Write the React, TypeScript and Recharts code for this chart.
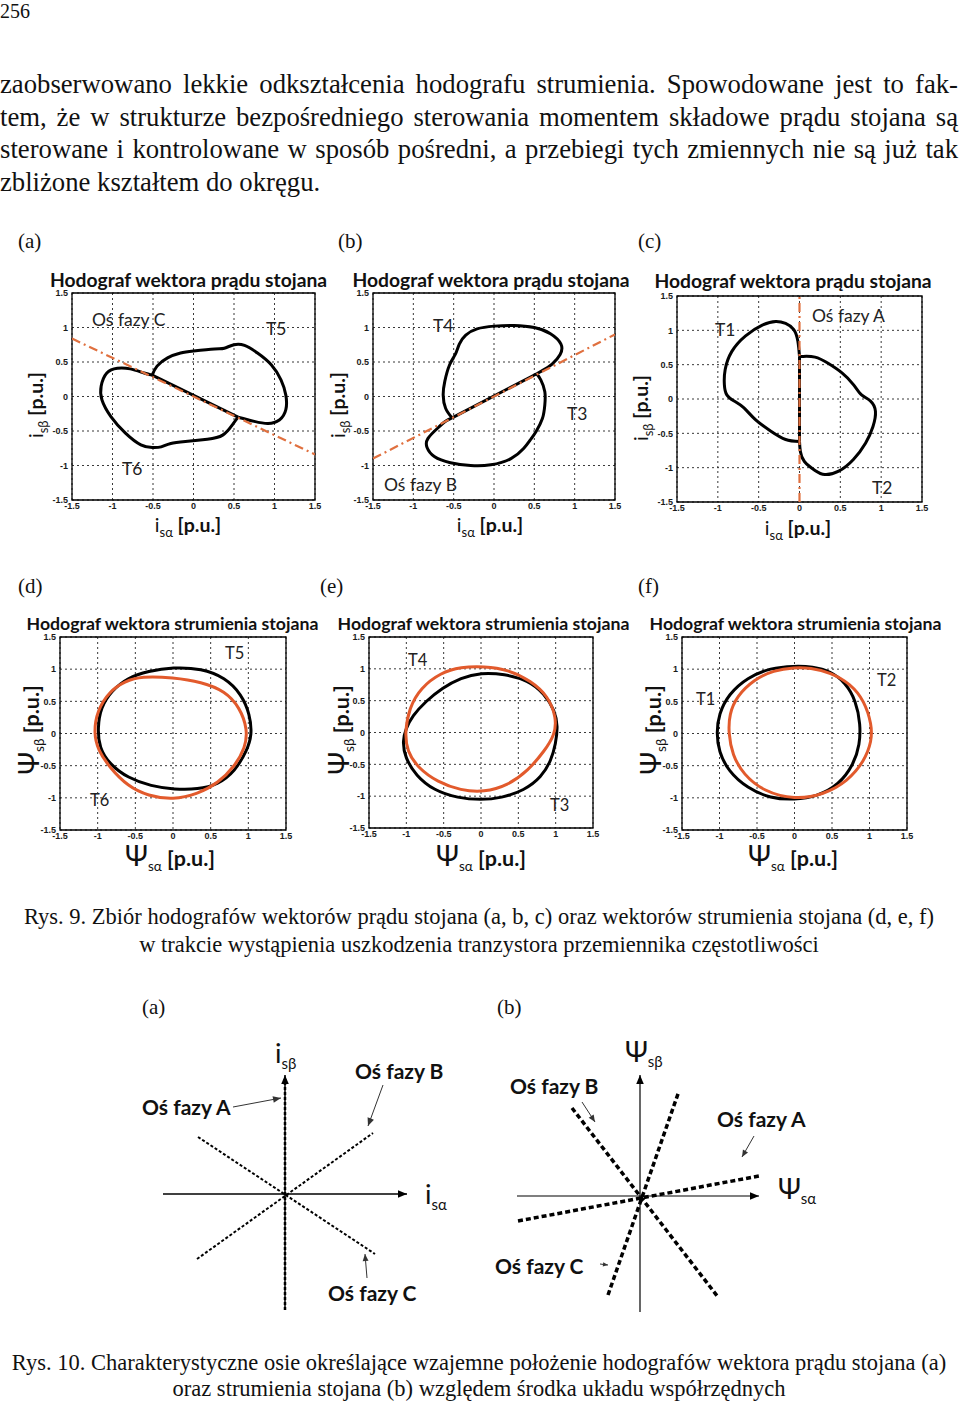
import React from 'react';
import { LineChart, Line, XAxis, YAxis, CartesianGrid, ReferenceArea } from 'recharts';

// ---------- data ----------
type Pt = { x: number; y: number };
const toPts = (a: number[][]): Pt[] => a.map(([x, y]) => ({ x, y }));

const AX_TICKS = [-1.5, -1, -0.5, 0, 0.5, 1, 1.5];

// (a) stator current, fault T5/T6
const aLobeUpper = [[-0.51,0.31],[-0.45,0.44],[-0.32,0.56],[-0.16,0.63],[0,0.66],[0.26,0.69],[0.38,0.70],[0.50,0.75],[0.63,0.74],[0.79,0.63],[0.96,0.46],[1.08,0.24],[1.14,0.02],[1.14,-0.19],[1.06,-0.34],[0.92,-0.39],[0.75,-0.36],[0.55,-0.30]];
const aLobeLower = [[0.55,-0.30],[0.48,-0.41],[0.36,-0.56],[0.17,-0.62],[-0.07,-0.65],[-0.28,-0.68],[-0.40,-0.73],[-0.51,-0.74],[-0.65,-0.70],[-0.84,-0.53],[-1.02,-0.29],[-1.13,-0.05],[-1.14,0.15],[-1.07,0.34],[-0.94,0.41],[-0.78,0.40],[-0.61,0.34],[-0.51,0.31]];
const aFaultPath = [[-0.51,0.31],[0.55,-0.30]];
const aPhaseAxisC = [[-1.5,0.84],[1.5,-0.84]];

// (b) stator current, fault T3/T4
const bLobeUpper = [[-0.52,-0.31],[-0.60,-0.17],[-0.63,0.02],[-0.61,0.22],[-0.55,0.46],[-0.48,0.61],[-0.43,0.76],[-0.35,0.89],[-0.21,0.98],[0,1.02],[0.25,1.03],[0.50,1.00],[0.70,0.91],[0.83,0.76],[0.82,0.61],[0.72,0.47],[0.62,0.39],[0.53,0.33]];
const bLobeLower = [[0.53,0.33],[0.58,0.24],[0.63,0.07],[0.63,-0.12],[0.60,-0.32],[0.52,-0.51],[0.45,-0.63],[0.37,-0.75],[0.21,-0.90],[-0.04,-0.99],[-0.29,-1.00],[-0.54,-0.96],[-0.74,-0.87],[-0.83,-0.74],[-0.82,-0.61],[-0.70,-0.46],[-0.60,-0.36],[-0.52,-0.31]];
const bFaultPath = [[-0.52,-0.31],[0.53,0.33]];
const bPhaseAxisB = [[-1.5,-0.9],[1.5,0.9]];

// (c) stator current, fault T1/T2
const cLobeLeft = [[0,0.62],[-0.02,0.84],[-0.07,1.01],[-0.17,1.10],[-0.29,1.13],[-0.45,1.08],[-0.66,0.92],[-0.83,0.69],[-0.91,0.43],[-0.92,0.21],[-0.89,0.06],[-0.80,-0.03],[-0.68,-0.13],[-0.54,-0.30],[-0.35,-0.47],[-0.17,-0.59],[0,-0.62]];
const cLobeRight = [[0,-0.62],[0.01,-0.76],[0.06,-0.91],[0.19,-1.04],[0.31,-1.10],[0.48,-1.05],[0.66,-0.88],[0.81,-0.64],[0.90,-0.40],[0.93,-0.18],[0.87,-0.03],[0.76,0.06],[0.66,0.21],[0.52,0.38],[0.35,0.52],[0.19,0.61],[0.04,0.62],[0,0.62]];
const cFaultPath = [[0,-0.62],[0,0.62]];
const cPhaseAxisA = [[0,-1.5],[0,1.5]];

// (d) stator flux
const dFluxBlack = [[0,1.03],[-0.33,0.97],[-0.60,0.87],[-0.82,0.66],[-0.96,0.40],[-1.00,0.09],[-0.98,-0.22],[-0.84,-0.48],[-0.60,-0.69],[-0.29,-0.82],[0.02,-0.87],[0.33,-0.87],[0.60,-0.79],[0.82,-0.59],[0.98,-0.27],[1.05,-0.02],[1.02,0.30],[0.91,0.61],[0.69,0.87],[0.38,1.01]];
const dFluxOrange = [[-1.05,0.01],[-1.01,0.35],[-0.84,0.66],[-0.64,0.81],[-0.42,0.89],[0,0.87],[0.38,0.80],[0.69,0.66],[0.89,0.40],[0.99,0.06],[0.96,-0.22],[0.82,-0.51],[0.60,-0.77],[0.33,-0.94],[0,-1.03],[-0.33,-0.97],[-0.60,-0.82],[-0.84,-0.53],[-1.00,-0.25]];

// (e) stator flux
const eFluxBlack = [[-1.01,0.05],[-0.92,0.26],[-0.74,0.49],[-0.52,0.70],[-0.27,0.86],[0,0.94],[0.31,0.92],[0.63,0.82],[0.85,0.61],[0.99,0.34],[1.03,0.10],[1.00,-0.18],[0.94,-0.44],[0.81,-0.70],[0.58,-0.91],[0.27,-1.03],[0,-1.06],[-0.31,-1.03],[-0.63,-0.91],[-0.87,-0.68],[-1.02,-0.39],[-1.05,-0.13]];
const eFluxOrange = [[-1.02,0],[-0.96,0.39],[-0.81,0.70],[-0.54,0.94],[-0.27,1.03],[0.04,1.04],[0.36,0.99],[0.67,0.81],[0.90,0.57],[1.01,0.23],[0.99,-0.03],[0.85,-0.29],[0.63,-0.60],[0.36,-0.83],[0.04,-0.94],[-0.27,-0.91],[-0.58,-0.78],[-0.85,-0.55],[-0.99,-0.29]];

// (f) stator flux
const fFluxBlack = [[0,1.05],[-0.32,1.02],[-0.63,0.87],[-0.88,0.61],[-1.01,0.30],[-1.04,0.01],[-1.01,-0.28],[-0.88,-0.59],[-0.63,-0.85],[-0.32,-1.01],[0,-1.03],[0.30,-0.98],[0.59,-0.80],[0.79,-0.48],[0.87,-0.17],[0.88,0.14],[0.82,0.51],[0.68,0.79],[0.48,0.97],[0.24,1.04]];
const fFluxOrange = [[0,1.03],[-0.28,0.98],[-0.54,0.84],[-0.77,0.58],[-0.87,0.30],[-0.88,0.01],[-0.83,-0.33],[-0.68,-0.64],[-0.41,-0.90],[0,-1.03],[0.39,-0.95],[0.71,-0.74],[0.93,-0.43],[1.03,-0.12],[1.03,0.14],[0.93,0.51],[0.75,0.77],[0.48,0.95],[0.21,1.02]];

// Rys. 10 (a): current axes diagram
const d10aAlphaAxis = [[-1.22,0],[1.22,0]];
const d10aBetaAxis = [[0,-1.16],[0,1.19]];
const d10aAxisA = [[0,-1.16],[0,1.15]];
const d10aAxisB = [[-0.88,-0.65],[0.88,0.61]];
const d10aAxisC = [[-0.87,0.57],[0.90,-0.60]];
const d10aPointerA = [[-0.52,0.87],[-0.04,0.96]];
const d10aPointerB = [[0.98,1.09],[0.83,0.68]];
const d10aPointerC = [[0.82,-0.84],[0.80,-0.60]];

// Rys. 10 (b): flux axes diagram
const d10bAlphaAxis = [[-1.23,0],[1.19,0]];
const d10bBetaAxis = [[0,-1.16],[0,1.21]];
const d10bAxisA = [[-1.22,-0.25],[1.19,0.20]];
const d10bAxisC = [[-0.32,-0.99],[0.39,1.05]];
const d10bAxisB = [[-0.68,0.88],[0.78,-1.01]];
const d10bPointerB = [[-0.58,0.94],[-0.45,0.74]];
const d10bPointerA = [[1.14,0.60],[1.02,0.39]];
const d10bPointerC = [[-0.40,-0.68],[-0.32,-0.69]];

// ---------- styles ----------
const SANS = 'Lato, "Open Sans", "Noto Sans", sans-serif';
const SERIF = '"Liberation Serif", "Times New Roman", serif';
const ORANGE = '#E25A2C';
const ORANGE_DASH = '#E0703F';

type Series = { data: number[][]; color: string; width: number; dash?: string; curve?: any; arrow?: number };

const tickStyle = { fontSize: 9, fontWeight: 700, fill: '#1a1a1a', fontFamily: '"Liberation Sans", Arial, sans-serif' };

function Hodo({ left, top, w, h, series }: { left: number; top: number; w: number; h: number; series: Series[] }) {
  return (
    <div style={{ position: 'absolute', left: left - 50, top: top - 10 }}>
      <LineChart width={w + 60} height={h + 30} margin={{ top: 10, right: 10, bottom: 0, left: 0 }}>
        <CartesianGrid stroke="#222" strokeDasharray="2 3" strokeWidth={0.9} />
        <XAxis type="number" dataKey="x" domain={[-1.5, 1.5]} ticks={AX_TICKS} interval={0} allowDataOverflow
          axisLine={false} tickLine={false} tickSize={1} tick={tickStyle} height={20} />
        <YAxis type="number" domain={[-1.5, 1.5]} ticks={AX_TICKS} interval={0} allowDataOverflow
          axisLine={false} tickLine={false} tickSize={2} tick={tickStyle} width={50} />
        <ReferenceArea x1={-1.5} x2={1.5} y1={-1.5} y2={1.5} fill="none" fillOpacity={0} stroke="#000" strokeWidth={1.3} ifOverflow="visible" />
        {series.map((s, i) => (
          <Line key={i} data={toPts(s.data)} dataKey="y" type={s.curve || 'natural'} stroke={s.color} strokeWidth={s.width}
            strokeDasharray={s.dash} dot={false} activeDot={false} isAnimationActive={false} />
        ))}
      </LineChart>
    </div>
  );
}

const makeArrow = (size: number, color: string) => (props: any) => {
  const { cx, cy, index, points } = props;
  const k = `ar-${index}`;
  if (!points || index < 1 || index !== points.length - 1 || cx == null) return <g key={k} />;
  const p = points[index - 1];
  const a = Math.atan2(cy - p.y, cx - p.x);
  const bx = cx - size * Math.cos(a);
  const by = cy - size * Math.sin(a);
  const hw = size * 0.42;
  const tri = [
    [cx, cy],
    [bx - hw * Math.sin(a), by + hw * Math.cos(a)],
    [bx + hw * Math.sin(a), by - hw * Math.cos(a)],
  ];
  return <polygon key={k} points={tri.map((q) => q.join(',')).join(' ')} fill={color} />;
};

function Diagram({ left, top, w, h, xDomain, yDomain, series }: { left: number; top: number; w: number; h: number; xDomain: number[]; yDomain: number[]; series: Series[] }) {
  return (
    <div style={{ position: 'absolute', left, top }}>
      <LineChart width={w} height={h} margin={{ top: 0, right: 0, bottom: 0, left: 0 }}>
        <XAxis type="number" dataKey="x" domain={xDomain} hide allowDataOverflow />
        <YAxis type="number" domain={yDomain} hide allowDataOverflow />
        {series.map((s, i) => (
          <Line key={i} data={toPts(s.data)} dataKey="y" type="linear" stroke={s.color} strokeWidth={s.width}
            strokeDasharray={s.dash} dot={s.arrow ? makeArrow(s.arrow, s.color) : false} activeDot={false} isAnimationActive={false} />
        ))}
      </LineChart>
    </div>
  );
}

// ---------- text helpers ----------
function T({ x, y, size, weight = 400, family = SANS, center = false, color = '#111', children }: any) {
  return (
    <div style={{ position: 'absolute', left: x, top: y, transform: `translate(${center ? '-50%' : '0'}, -50%)`, fontSize: size, fontWeight: weight, fontFamily: family, color, whiteSpace: 'nowrap', lineHeight: 1 }}>
      {children}
    </div>
  );
}
function VT({ x, y, children }: any) {
  return (
    <div style={{ position: 'absolute', left: x, top: y, transform: 'translate(-50%, -50%) rotate(-90deg)', whiteSpace: 'nowrap', lineHeight: 1, fontFamily: SANS, color: '#111' }}>
      {children}
    </div>
  );
}
const Sub = ({ children, size }: any) => <span style={{ fontSize: size, verticalAlign: '-0.35em', fontWeight: 400 }}>{children}</span>;

const CurLabel = ({ sub }: { sub: string }) => (
  <span style={{ fontSize: 19.5 }}>
    <span style={{ fontWeight: 400 }}>i</span><Sub size={13}>{sub}</Sub><span style={{ fontWeight: 700 }}> [p.u.]</span>
  </span>
);
const FluxLabel = ({ sub }: { sub: string }) => (
  <span style={{ fontSize: 21.5 }}>
    <span style={{ fontSize: 28, fontWeight: 400 }}>Ψ</span><Sub size={13.5}>{sub}</Sub><span style={{ fontWeight: 700 }}> [p.u.]</span>
  </span>
);

const paragraph = [
  'zaobserwowano lekkie odkształcenia hodografu strumienia. Spowodowane jest to fak-',
  'tem, że w strukturze bezpośredniego sterowania momentem składowe prądu stojana są',
  'sterowane i kontrolowane w sposób pośredni, a przebiegi tych zmiennych nie są już tak',
  'zbliżone kształtem do okręgu.',
];

export default function App() {
  const curBlack = (d: number[][]): Series => ({ data: d, color: '#000', width: 3 });
  const dashAxis = (d: number[][]): Series => ({ data: d, color: ORANGE_DASH, width: 2.2, dash: '9 4 2 4', curve: 'linear' });
  const fluxB = (d: number[][]): Series => ({ data: d, color: '#000', width: 3, curve: 'basisClosed' });
  const fluxO = (d: number[][]): Series => ({ data: d, color: ORANGE, width: 3, curve: 'basisClosed' });
  const ann = 17.5;
  const annF = 16.5;
  const cap = 22.5;
  return (
    <div style={{ position: 'absolute', left: 0, top: 0, width: 960, height: 1402, background: '#fff', overflow: 'hidden' }}>
      <T x={0} y={11} size={20} family={SERIF}>256</T>
      <div style={{ position: 'absolute', left: 0, top: 68, width: 958, fontFamily: SERIF, fontSize: 26.7, lineHeight: '32.5px', color: '#111' }}>
        {paragraph.map((l, i) => (
          <div key={i} style={{ textAlign: 'justify', textAlignLast: i < 3 ? 'justify' : 'left', whiteSpace: 'nowrap' as any }}>{l}</div>
        ))}
      </div>

      {/* panel letters */}
      <T x={18} y={241} size={21} family={SERIF}>(a)</T>
      <T x={338} y={241} size={21} family={SERIF}>(b)</T>
      <T x={638} y={241} size={21} family={SERIF}>(c)</T>
      <T x={18} y={586} size={21} family={SERIF}>(d)</T>
      <T x={320} y={586} size={21} family={SERIF}>(e)</T>
      <T x={638} y={586} size={21} family={SERIF}>(f)</T>

      {/* titles */}
      <T x={188.5} y={280} size={19.3} weight={700} center>Hodograf wektora prądu stojana</T>
      <T x={491} y={280} size={19.3} weight={700} center>Hodograf wektora prądu stojana</T>
      <T x={793} y={281} size={19.3} weight={700} center>Hodograf wektora prądu stojana</T>
      <T x={172.5} y={624} size={17.7} weight={700} center>Hodograf wektora strumienia stojana</T>
      <T x={483.5} y={624} size={17.7} weight={700} center>Hodograf wektora strumienia stojana</T>
      <T x={795.5} y={624} size={17.7} weight={700} center>Hodograf wektora strumienia stojana</T>

      {/* current plots */}
      <Hodo left={72} top={293} w={243} h={207} series={[curBlack(aFaultPath), curBlack(aLobeUpper), curBlack(aLobeLower), dashAxis(aPhaseAxisC)]} />
      <Hodo left={373} top={293} w={242} h={207} series={[curBlack(bFaultPath), curBlack(bLobeUpper), curBlack(bLobeLower), dashAxis(bPhaseAxisB)]} />
      <Hodo left={677} top={296} w={245} h={206} series={[curBlack(cFaultPath), curBlack(cLobeLeft), curBlack(cLobeRight), dashAxis(cPhaseAxisA)]} />

      {/* flux plots */}
      <Hodo left={60} top={637} w={226} h={193} series={[fluxB(dFluxBlack), fluxO(dFluxOrange)]} />
      <Hodo left={369} top={637} w={224} h={191} series={[fluxB(eFluxBlack), fluxO(eFluxOrange)]} />
      <Hodo left={682} top={637} w={225} h={193} series={[fluxB(fFluxBlack), fluxO(fFluxOrange)]} />

      {/* axis labels */}
      <VT x={38} y={405}><CurLabel sub="sβ" /></VT>
      <VT x={340} y={405}><CurLabel sub="sβ" /></VT>
      <VT x={643} y={408}><CurLabel sub="sβ" /></VT>
      <T x={188} y={527} center><CurLabel sub="sα" /></T>
      <T x={490} y={527} center><CurLabel sub="sα" /></T>
      <T x={798} y={530} center><CurLabel sub="sα" /></T>
      <VT x={30} y={730}><FluxLabel sub="sβ" /></VT>
      <VT x={340} y={730}><FluxLabel sub="sβ" /></VT>
      <VT x={652} y={730}><FluxLabel sub="sβ" /></VT>
      <T x={170} y={857} center><FluxLabel sub="sα" /></T>
      <T x={481} y={857} center><FluxLabel sub="sα" /></T>
      <T x={793} y={857} center><FluxLabel sub="sα" /></T>

      {/* annotations */}
      <T x={92} y={320} size={ann} color="#222">Oś fazy C</T>
      <T x={266} y={329} size={ann} color="#222">T5</T>
      <T x={122} y={469} size={ann} color="#222">T6</T>
      <T x={433} y={326} size={ann} color="#222">T4</T>
      <T x={567} y={414} size={ann} color="#222">T3</T>
      <T x={384} y={485} size={ann} color="#222">Oś fazy B</T>
      <T x={715} y={330} size={ann} color="#222">T1</T>
      <T x={812} y={316} size={ann} color="#222">Oś fazy A</T>
      <T x={872} y={488} size={ann} color="#222">T2</T>
      <T x={225} y={653} size={annF} color="#222">T5</T>
      <T x={90} y={800} size={annF} color="#222">T6</T>
      <T x={408} y={660} size={annF} color="#222">T4</T>
      <T x={550} y={805} size={annF} color="#222">T3</T>
      <T x={696} y={699} size={annF} color="#222">T1</T>
      <T x={877} y={680} size={annF} color="#222">T2</T>

      {/* caption 9 */}
      <T x={479} y={917} size={cap} family={SERIF} center>Rys. 9. Zbiór hodografów wektorów prądu stojana (a, b, c) oraz wektorów strumienia stojana (d, e, f)</T>
      <T x={479} y={945} size={cap} family={SERIF} center>w trakcie wystąpienia uszkodzenia tranzystora przemiennika częstotliwości</T>

      <T x={142} y={1007} size={21} family={SERIF}>(a)</T>
      <T x={497} y={1007} size={21} family={SERIF}>(b)</T>

      {/* Rys. 10 (a) */}
      <Diagram left={130} top={1030} w={330} h={290} xDomain={[-1.55, 1.75]} yDomain={[-1.26, 1.64]} series={[
        { data: d10aAlphaAxis, color: '#000', width: 1.5, arrow: 9 },
        { data: d10aBetaAxis, color: '#000', width: 1.5, arrow: 9 },
        { data: d10aAxisA, color: '#000', width: 2.5, dash: '3 2' },
        { data: d10aAxisB, color: '#000', width: 2, dash: '3 2' },
        { data: d10aAxisC, color: '#000', width: 2, dash: '3 2' },
        { data: d10aPointerA, color: '#333', width: 1, arrow: 8 },
        { data: d10aPointerB, color: '#333', width: 1, arrow: 8 },
        { data: d10aPointerC, color: '#333', width: 1, arrow: 7 },
      ]} />
      <T x={275} y={1055} size={27}>i<Sub size={15}>sβ</Sub></T>
      <T x={425} y={1196} size={27}>i<Sub size={15}>sα</Sub></T>
      <T x={142} y={1106} size={21} weight={700}>Oś fazy A</T>
      <T x={355} y={1070} size={21} weight={700}>Oś fazy B</T>
      <T x={328} y={1292} size={21} weight={700}>Oś fazy C</T>

      {/* Rys. 10 (b) */}
      <Diagram left={480} top={1030} w={350} h={290} xDomain={[-1.6, 1.9]} yDomain={[-1.24, 1.66]} series={[
        { data: d10bAlphaAxis, color: '#000', width: 1.2, arrow: 9 },
        { data: d10bBetaAxis, color: '#000', width: 1.2, arrow: 9 },
        { data: d10bAxisA, color: '#000', width: 3.5, dash: '5 3' },
        { data: d10bAxisC, color: '#000', width: 3.5, dash: '5 3' },
        { data: d10bAxisB, color: '#000', width: 3.5, dash: '5 3' },
        { data: d10bPointerB, color: '#333', width: 1, arrow: 7 },
        { data: d10bPointerA, color: '#333', width: 1, arrow: 7 },
        { data: d10bPointerC, color: '#333', width: 1, arrow: 5 },
      ]} />
      <T x={625} y={1053} size={28}>Ψ<Sub size={15}>sβ</Sub></T>
      <T x={778} y={1190} size={28}>Ψ<Sub size={15}>sα</Sub></T>
      <T x={510} y={1085} size={21} weight={700}>Oś fazy B</T>
      <T x={717} y={1118} size={21} weight={700}>Oś fazy A</T>
      <T x={495} y={1265} size={21} weight={700}>Oś fazy C</T>

      {/* caption 10 */}
      <T x={479} y={1363} size={cap} family={SERIF} center>Rys. 10. Charakterystyczne osie określające wzajemne położenie hodografów wektora prądu stojana (a)</T>
      <T x={479} y={1389} size={cap} family={SERIF} center>oraz strumienia stojana (b) względem środka układu współrzędnych</T>
    </div>
  );
}
